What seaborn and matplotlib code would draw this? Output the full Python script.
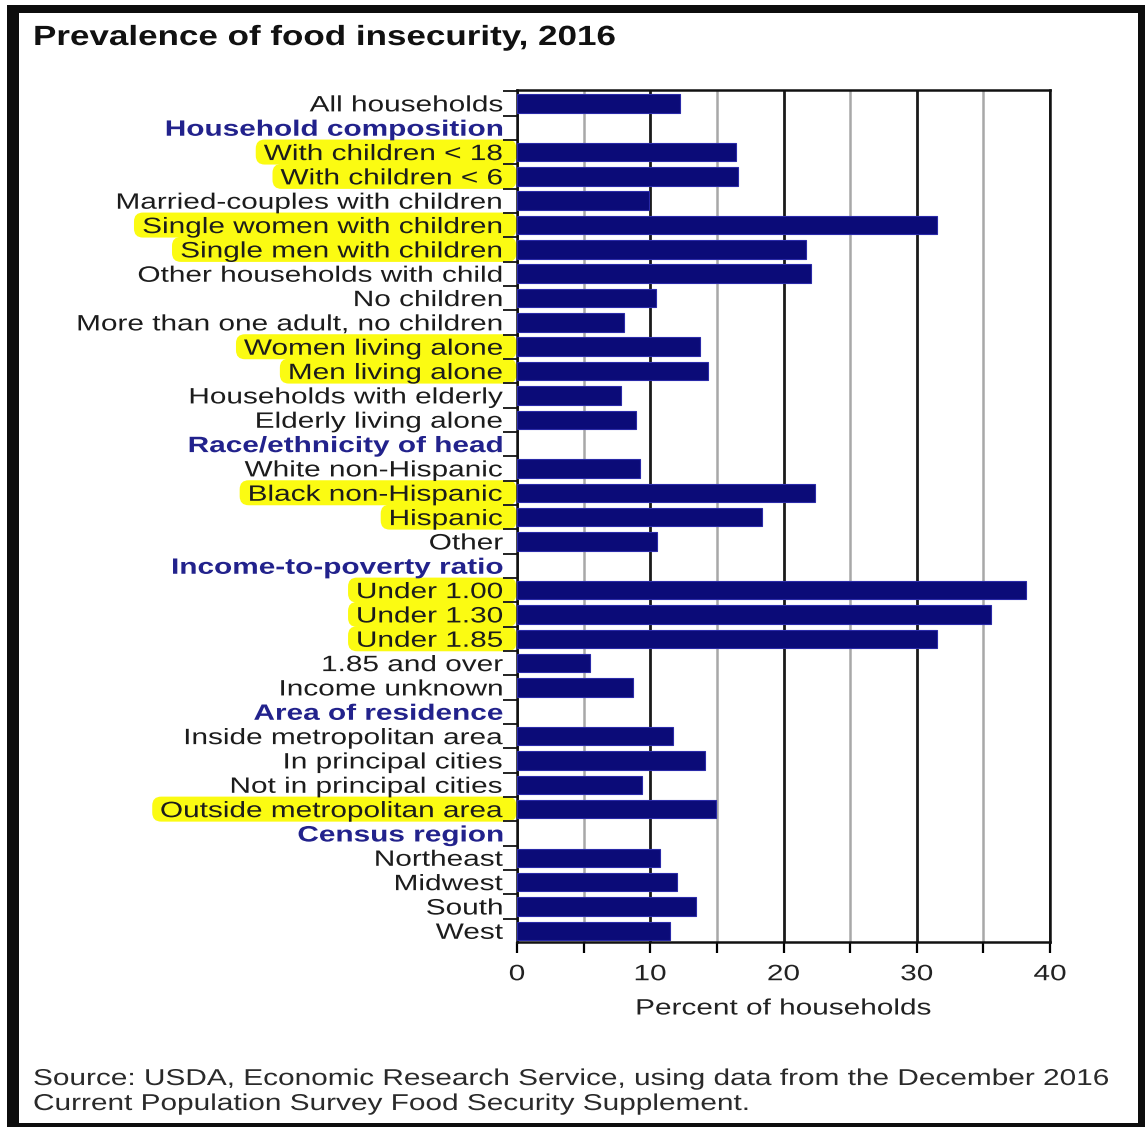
import numpy as np
import pandas as pd
import matplotlib
matplotlib.use("Agg")
import matplotlib.pyplot as plt
import seaborn as sns
from matplotlib.patheffects import AbstractPathEffect
from matplotlib.transforms import Affine2D, IdentityTransform
from matplotlib.patches import FancyBboxPatch, Rectangle
from matplotlib.ticker import FixedLocator

# ---------------- data ----------------
title = "Prevalence of food insecurity, 2016"
x_label = "Percent of households"
source_lines = ["Source: USDA, Economic Research Service, using data from the December 2016",
                "Current Population Survey Food Security Supplement."]

row_order = [
    "All households",
    "Household composition",
    "With children < 18", "With children < 6", "Married-couples with children",
    "Single women with children", "Single men with children", "Other households with child",
    "No children", "More than one adult, no children", "Women living alone",
    "Men living alone", "Households with elderly", "Elderly living alone",
    "Race/ethnicity of head",
    "White non-Hispanic", "Black non-Hispanic", "Hispanic", "Other",
    "Income-to-poverty ratio",
    "Under 1.00", "Under 1.30", "Under 1.85", "1.85 and over", "Income unknown",
    "Area of residence",
    "Inside metropolitan area", "In principal cities", "Not in principal cities",
    "Outside metropolitan area",
    "Census region",
    "Northeast", "Midwest", "South", "West",
]
header_labels = ["Household composition", "Race/ethnicity of head",
                 "Income-to-poverty ratio", "Area of residence", "Census region"]

bar_labels = [r for r in row_order if r not in header_labels]
bar_values = [12.2,
              16.4, 16.6, 9.9, 31.5, 21.7, 22.1, 10.4, 8.0, 13.7, 14.3, 7.8, 8.9,
              9.2, 22.4, 18.4, 10.5,
              38.2, 35.6, 31.5, 5.5, 8.7,
              11.7, 14.1, 9.4, 14.9,
              10.7, 12.0, 13.4, 11.5]
highlighted = ["With children < 18", "With children < 6", "Single women with children",
               "Single men with children", "Women living alone", "Men living alone",
               "Black non-Hispanic", "Hispanic", "Under 1.00", "Under 1.30", "Under 1.85",
               "Outside metropolitan area"]
x_major = [0, 10, 20, 30, 40]
x_minor = [5, 15, 25, 35]

# ---------------- style ----------------
BAR = "#0b0b78"
EDGE = "#2a2aa8"
HEAD = "#22228c"
TXT = "#1c1c1c"
YEL = "#fbfb12"
SX = 1.34  # horizontal stretch of the lettering


class HStretch(AbstractPathEffect):
    """Draw text glyphs stretched horizontally about an anchor."""

    def __init__(self, sx, anchor="right"):
        super().__init__()
        self.sx = sx
        self.anchor = anchor

    def draw_path(self, renderer, gc, tpath, affine, rgbFace=None):
        ext = tpath.get_extents(affine)
        if self.anchor == "right":
            px = ext.x1
        elif self.anchor == "left":
            px = affine.get_matrix()[0, 2]
        else:
            px = 0.5 * (ext.x0 + ext.x1)
        t = affine + Affine2D().translate(-px, 0).scale(self.sx, 1.0).translate(px, 0)
        renderer.draw_path(gc, tpath, t, rgbFace)


sns.set_style("white")
plt.rcParams["font.family"] = ["Liberation Sans", "DejaVu Sans"]

W, H = 1145, 1127
fig = plt.figure(figsize=(W / 100, H / 100), dpi=100)
fig.patch.set_facecolor("white")
ax = fig.add_axes([517 / W, 1 - 942 / H, (1050 - 517) / W, (942 - 90) / H])

df = pd.DataFrame({"label": bar_labels, "pct": bar_values})
sns.barplot(data=df, x="pct", y="label", order=row_order, orient="h",
            color=BAR, saturation=1, width=0.76, edgecolor=EDGE, linewidth=0.8,
            errorbar=None, ax=ax, zorder=3)

n = len(row_order)
ax.set_ylim(n - 1 + 0.46, -0.55)
ax.set_xlim(0, 40)
ax.set_ylabel("")
ax.set_xlabel("")

# x ticks / grid
ax.set_xticks(x_major)
ax.set_xticks(x_minor, minor=True)
ax.set_xticklabels([str(v) for v in x_major])
ax.grid(False)
ax.grid(True, which="major", axis="x", color="#1a1a1a", lw=2.0, zorder=0)
ax.grid(True, which="minor", axis="x", color="#a8a8a8", lw=1.8, zorder=0)
ax.set_axisbelow(True)
ax.tick_params(axis="x", which="both", bottom=True, direction="out", length=8,
               width=1.6, color="black", pad=8, labelsize=16, labelcolor="#222222")

# y ticks: labels at centres, small marks at row boundaries
ax.set_yticks(range(n))
ax.set_yticklabels(row_order)
ax.yaxis.set_minor_locator(FixedLocator(np.arange(-0.5, n, 1.0)))
ax.tick_params(axis="y", which="major", left=True, length=0, pad=10, labelsize=16)
ax.tick_params(axis="y", which="minor", left=True, direction="out", length=10,
               width=1.4, color="#222222")

for t in ax.get_yticklabels():
    if t.get_text() in header_labels:
        t.set_color(HEAD)
        t.set_fontweight("bold")
    else:
        t.set_color(TXT)
    t.set_path_effects([HStretch(SX, "right")])
for t in ax.get_xticklabels():
    t.set_path_effects([HStretch(SX, "center")])

for side in ["left", "bottom", "top", "right"]:
    ax.spines[side].set_visible(True)
    ax.spines[side].set_color("#111111")
    ax.spines[side].set_linewidth(1.8)

ax.set_xlabel(x_label, fontsize=16, color="#222222")
ax.xaxis.set_label_coords(0.5, (942 - 1009) / (942 - 90))
ax.xaxis.label.set_va("center")
ax.xaxis.label.set_path_effects([HStretch(SX, "center")])

# title and source
fig.text(33 / W, 1 - 45 / H, title, fontsize=20, fontweight="bold", color="#111111",
         ha="left", va="baseline", path_effects=[HStretch(1.26, "left")])
fig.text(33 / W, 1 - 1085 / H, source_lines[0], fontsize=16.5, color="#2a2a2a",
         ha="left", va="baseline", path_effects=[HStretch(1.3, "left")])
fig.text(33 / W, 1 - 1110 / H, source_lines[1], fontsize=16.5, color="#2a2a2a",
         ha="left", va="baseline", path_effects=[HStretch(1.3, "left")])

# yellow marker highlights behind selected labels
fig.canvas.draw()
renderer = fig.canvas.get_renderer()
for t in ax.get_yticklabels():
    if t.get_text() in highlighted:
        bb = t.get_window_extent(renderer)
        left = bb.x1 - bb.width * SX - 6
        right = 517 - 2
        yc = ax.transData.transform((0, row_order.index(t.get_text())))[1]
        p = FancyBboxPatch((left, yc - 11), right - left, 22,
                           boxstyle="round,pad=1.5,rounding_size=9",
                           transform=IdentityTransform(), facecolor=YEL,
                           edgecolor="none", zorder=-1)
        fig.add_artist(p)

# black frame around the picture
for (x0, y0, w, h) in [(7, H - 13, W - 7, 8), (7, 0, 12, H - 5),
                       (1138, 0, 7, H - 5), (7, 0, W - 7, 4)]:
    fig.add_artist(Rectangle((x0, y0), w, h, transform=IdentityTransform(),
                             facecolor="#0d0d0d", edgecolor="none", zorder=10))

fig.savefig("out.png", dpi=100)
